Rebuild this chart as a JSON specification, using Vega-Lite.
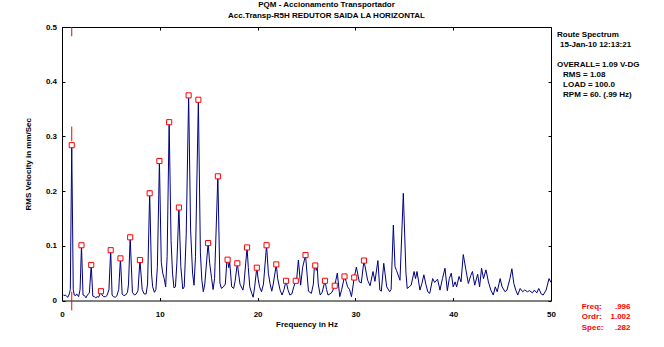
{
  "$schema": "https://vega.github.io/schema/vega-lite/v6.json",
  "autosize": {"type": "none"},
  "width": 489,
  "height": 273.5,
  "padding": {"left": 62, "top": 27, "right": 113, "bottom": 46.5},
  "background": "white",
  "config": {
    "font": "Liberation Sans",
    "view": {"stroke": null},
    "axis": {"domainColor": "black", "tickColor": "black", "labelColor": "black", "titleColor": "black", "grid": false, "labelFont": "Liberation Sans", "titleFont": "Liberation Sans", "labelFontWeight": "bold", "titleFontWeight": "bold", "labelFontSize": 8, "titleFontSize": 8, "tickSize": -3, "domainWidth": 1}
  },
  "title": {
    "text": ["PQM  - Accionamento Transportador", "Acc.Transp-R5H   REDUTOR SAIDA LA HORIZONTAL"],
    "anchor": "middle", "frame": "group", "fontSize": 8, "fontWeight": "bold", "font": "Liberation Sans",
    "lineHeight": 11, "offset": 3, "dx": 20, "color": "black"
  },
  "datasets": {
    "spectrum": [
      {"f":0.1,"v":0.011},{"f":0.2,"v":0.009},{"f":0.35,"v":0.01},{"f":0.5,"v":0.007},{"f":0.6,"v":0.006},{"f":0.75,"v":0.012},{"f":0.85,"v":0.02},{"f":0.996,"v":0.284},{"f":1.15,"v":0.02},{"f":1.25,"v":0.01},{"f":1.4,"v":0.009},{"f":1.5,"v":0.012},{"f":1.7,"v":0.007},{"f":1.85,"v":0.02},{"f":1.992,"v":0.101},{"f":2.15,"v":0.01},{"f":2.3,"v":0.009},{"f":2.45,"v":0.005},{"f":2.6,"v":0.01},{"f":2.8,"v":0.014},{"f":2.988,"v":0.065},{"f":3.15,"v":0.008},{"f":3.3,"v":0.007},{"f":3.45,"v":0.005},{"f":3.6,"v":0.007},{"f":3.75,"v":0.006},{"f":3.984,"v":0.017},{"f":4.1,"v":0.01},{"f":4.25,"v":0.007},{"f":4.45,"v":0.007},{"f":4.6,"v":0.009},{"f":4.8,"v":0.02},{"f":4.98,"v":0.092},{"f":5.12,"v":0.01},{"f":5.25,"v":0.007},{"f":5.45,"v":0.006},{"f":5.6,"v":0.008},{"f":5.8,"v":0.02},{"f":5.976,"v":0.077},{"f":6.15,"v":0.012},{"f":6.3,"v":0.009},{"f":6.5,"v":0.01},{"f":6.7,"v":0.015},{"f":6.8,"v":0.03},{"f":6.972,"v":0.1155},{"f":7.2,"v":0.015},{"f":7.4,"v":0.01},{"f":7.6,"v":0.012},{"f":7.77,"v":0.018},{"f":7.968,"v":0.074},{"f":8.2,"v":0.02},{"f":8.4,"v":0.012},{"f":8.6,"v":0.012},{"f":8.75,"v":0.03},{"f":8.964,"v":0.196},{"f":9.15,"v":0.05},{"f":9.27,"v":0.025},{"f":9.45,"v":0.015},{"f":9.6,"v":0.02},{"f":9.75,"v":0.06},{"f":9.96,"v":0.255},{"f":10.15,"v":0.07},{"f":10.3,"v":0.05},{"f":10.45,"v":0.04},{"f":10.6,"v":0.025},{"f":10.75,"v":0.08},{"f":10.956,"v":0.326},{"f":11.15,"v":0.11},{"f":11.3,"v":0.05},{"f":11.45,"v":0.023},{"f":11.6,"v":0.025},{"f":11.75,"v":0.07},{"f":11.952,"v":0.17},{"f":12.15,"v":0.062},{"f":12.35,"v":0.021},{"f":12.5,"v":0.025},{"f":12.7,"v":0.12},{"f":12.948,"v":0.375},{"f":13.15,"v":0.129},{"f":13.35,"v":0.05},{"f":13.5,"v":0.028},{"f":13.65,"v":0.08},{"f":13.944,"v":0.367},{"f":14.15,"v":0.087},{"f":14.3,"v":0.037},{"f":14.45,"v":0.016},{"f":14.6,"v":0.03},{"f":14.94,"v":0.105},{"f":15.1,"v":0.068},{"f":15.3,"v":0.04},{"f":15.45,"v":0.02},{"f":15.6,"v":0.04},{"f":15.936,"v":0.227},{"f":16.15,"v":0.032},{"f":16.3,"v":0.022},{"f":16.5,"v":0.025},{"f":16.7,"v":0.03},{"f":16.85,"v":0.07},{"f":16.932,"v":0.0746},{"f":17.05,"v":0.06},{"f":17.15,"v":0.07},{"f":17.35,"v":0.025},{"f":17.55,"v":0.022},{"f":17.7,"v":0.035},{"f":17.928,"v":0.068},{"f":18.05,"v":0.05},{"f":18.2,"v":0.03},{"f":18.5,"v":0.019},{"f":18.6,"v":0.03},{"f":18.924,"v":0.097},{"f":19.05,"v":0.06},{"f":19.2,"v":0.025},{"f":19.4,"v":0.013},{"f":19.55,"v":0.006},{"f":19.7,"v":0.025},{"f":19.92,"v":0.06},{"f":20.05,"v":0.04},{"f":20.2,"v":0.025},{"f":20.4,"v":0.016},{"f":20.6,"v":0.03},{"f":20.916,"v":0.101},{"f":21.1,"v":0.05},{"f":21.27,"v":0.031},{"f":21.45,"v":0.017},{"f":21.6,"v":0.03},{"f":21.912,"v":0.066},{"f":22.05,"v":0.04},{"f":22.3,"v":0.019},{"f":22.5,"v":0.01},{"f":22.7,"v":0.02},{"f":22.908,"v":0.036},{"f":23.1,"v":0.02},{"f":23.3,"v":0.01},{"f":23.5,"v":0.012},{"f":23.7,"v":0.025},{"f":23.904,"v":0.036},{"f":24.0,"v":0.04},{"f":24.17,"v":0.074},{"f":24.4,"v":0.028},{"f":24.6,"v":0.06},{"f":24.9,"v":0.083},{"f":25.05,"v":0.05},{"f":25.2,"v":0.017},{"f":25.5,"v":0.013},{"f":25.7,"v":0.03},{"f":25.82,"v":0.068},{"f":25.896,"v":0.064},{"f":26.0,"v":0.055},{"f":26.1,"v":0.06},{"f":26.2,"v":0.03},{"f":26.4,"v":0.01},{"f":26.6,"v":0.015},{"f":26.892,"v":0.036},{"f":27.05,"v":0.02},{"f":27.2,"v":0.01},{"f":27.4,"v":0.012},{"f":27.6,"v":0.015},{"f":27.888,"v":0.027},{"f":28.15,"v":0.05},{"f":28.4,"v":0.007},{"f":28.6,"v":0.02},{"f":28.884,"v":0.044},{"f":29.05,"v":0.035},{"f":29.2,"v":0.025},{"f":29.4,"v":0.02},{"f":29.6,"v":0.007},{"f":29.88,"v":0.042},{"f":30.1,"v":0.061},{"f":30.4,"v":0.034},{"f":30.6,"v":0.032},{"f":30.876,"v":0.073},{"f":31.25,"v":0.037},{"f":31.5,"v":0.027},{"f":31.8,"v":0.053},{"f":32.0,"v":0.035},{"f":32.3,"v":0.073},{"f":32.5,"v":0.019},{"f":32.65,"v":0.017},{"f":32.9,"v":0.068},{"f":33.2,"v":0.025},{"f":33.5,"v":0.016},{"f":33.65,"v":0.02},{"f":33.88,"v":0.138},{"f":34.05,"v":0.062},{"f":34.2,"v":0.055},{"f":34.56,"v":0.037},{"f":34.9,"v":0.196},{"f":35.17,"v":0.05},{"f":35.3,"v":0.022},{"f":35.5,"v":0.025},{"f":35.7,"v":0.028},{"f":36.0,"v":0.053},{"f":36.15,"v":0.04},{"f":36.3,"v":0.053},{"f":36.6,"v":0.019},{"f":36.8,"v":0.031},{"f":37.0,"v":0.047},{"f":37.2,"v":0.03},{"f":37.4,"v":0.016},{"f":37.6,"v":0.013},{"f":37.9,"v":0.04},{"f":38.1,"v":0.033},{"f":38.4,"v":0.039},{"f":38.65,"v":0.019},{"f":38.9,"v":0.04},{"f":39.16,"v":0.059},{"f":39.4,"v":0.018},{"f":39.6,"v":0.04},{"f":39.8,"v":0.05},{"f":40.0,"v":0.025},{"f":40.2,"v":0.034},{"f":40.35,"v":0.025},{"f":40.6,"v":0.044},{"f":40.8,"v":0.034},{"f":41.03,"v":0.084},{"f":41.3,"v":0.056},{"f":41.55,"v":0.031},{"f":41.8,"v":0.046},{"f":41.97,"v":0.053},{"f":42.2,"v":0.028},{"f":42.5,"v":0.048},{"f":42.7,"v":0.025},{"f":42.9,"v":0.059},{"f":43.1,"v":0.04},{"f":43.35,"v":0.056},{"f":43.6,"v":0.034},{"f":43.85,"v":0.019},{"f":44.1,"v":0.01},{"f":44.3,"v":0.025},{"f":44.5,"v":0.016},{"f":44.8,"v":0.04},{"f":45.0,"v":0.025},{"f":45.3,"v":0.016},{"f":45.5,"v":0.019},{"f":45.8,"v":0.04},{"f":46.0,"v":0.058},{"f":46.2,"v":0.031},{"f":46.4,"v":0.019},{"f":46.6,"v":0.01},{"f":46.85,"v":0.022},{"f":47.1,"v":0.016},{"f":47.3,"v":0.019},{"f":47.6,"v":0.016},{"f":47.8,"v":0.018},{"f":48.1,"v":0.014},{"f":48.3,"v":0.019},{"f":48.55,"v":0.014},{"f":48.75,"v":0.022},{"f":49.0,"v":0.012},{"f":49.2,"v":0.01},{"f":49.5,"v":0.019},{"f":49.8,"v":0.04},{"f":50,"v":0.033}
    ],
    "peaks": [
      {"n":1,"f":0.996,"v":0.284},{"n":2,"f":1.992,"v":0.101},{"n":3,"f":2.988,"v":0.065},{"n":4,"f":3.984,"v":0.017},{"n":5,"f":4.98,"v":0.092},{"n":6,"f":5.976,"v":0.077},{"n":7,"f":6.972,"v":0.1155},{"n":8,"f":7.968,"v":0.074},{"n":9,"f":8.964,"v":0.196},{"n":10,"f":9.96,"v":0.255},{"n":11,"f":10.956,"v":0.326},{"n":12,"f":11.952,"v":0.17},{"n":13,"f":12.948,"v":0.375},{"n":14,"f":13.944,"v":0.367},{"n":15,"f":14.94,"v":0.105},{"n":16,"f":15.936,"v":0.227},{"n":17,"f":16.932,"v":0.0746},{"n":18,"f":17.928,"v":0.068},{"n":19,"f":18.924,"v":0.097},{"n":20,"f":19.92,"v":0.06},{"n":21,"f":20.916,"v":0.101},{"n":22,"f":21.912,"v":0.066},{"n":23,"f":22.908,"v":0.036},{"n":24,"f":23.904,"v":0.036},{"n":25,"f":24.9,"v":0.083},{"n":26,"f":25.896,"v":0.064},{"n":27,"f":26.892,"v":0.036},{"n":28,"f":27.888,"v":0.027},{"n":29,"f":28.884,"v":0.044},{"n":30,"f":29.88,"v":0.042},{"n":31,"f":30.876,"v":0.073}
    ],
    "cursor": [
      {"f":0.996,"v1":0.5,"v2":0.483},{"f":0.996,"v1":0.318,"v2":0.291},{"f":0.996,"v1":0.016,"v2":-0.018}
    ],
    "panel": [
      {"t":"Route Spectrum","f":50.61,"v":0.4854},
      {"t":"15-Jan-10  12:13:21","f":50.92,"v":0.467},
      {"t":"OVERALL= 1.09 V-DG","f":50.61,"v":0.4305},
      {"t":"RMS =  1.08","f":51.23,"v":0.412},
      {"t":"LOAD = 100.0","f":51.23,"v":0.394},
      {"t":"RPM = 60.  (.99 Hz)","f":51.23,"v":0.3757}
    ],
    "cursorLabels": [
      {"t":"Freq:","f":53.14,"v":-0.0113},
      {"t":"Ordr:","f":53.14,"v":-0.0296},
      {"t":"Spec:","f":53.14,"v":-0.0497}
    ],
    "cursorValues": [
      {"t":".996","f":58.13,"v":-0.0113},
      {"t":"1.002","f":58.13,"v":-0.0296},
      {"t":".282","f":58.13,"v":-0.0497}
    ]
  },
  "resolve": {"axis": {"x": "independent", "y": "independent"}},
  "layer": [
    {
      "data": {"name": "spectrum"},
      "mark": {"type": "line", "color": "#000080", "strokeWidth": 1},
      "encoding": {
        "x": {"field": "f", "type": "quantitative", "scale": {"domain": [0, 50], "nice": false, "zero": false},
              "axis": {"title": "Frequency in Hz", "values": [0, 10, 20, 30, 40, 50], "labelPadding": 13, "titlePadding": 2, "labelFlush": false}},
        "y": {"field": "v", "type": "quantitative", "scale": {"domain": [0, 0.5], "nice": false},
              "axis": {"title": "RMS Velocity in mm/Sec", "values": [0, 0.1, 0.2, 0.3, 0.4, 0.5], "format": ".1~f", "labelPadding": 8.5, "titlePadding": 13, "labelFlush": false}}
      }
    },
    {
      "data": {"name": "cursor"},
      "mark": {"type": "rule", "color": "#ff0000", "strokeWidth": 1},
      "encoding": {
        "x": {"field": "f", "type": "quantitative", "axis": null},
        "y": {"field": "v1", "type": "quantitative", "axis": null},
        "y2": {"field": "v2"}
      }
    },
    {
      "data": {"name": "peaks"},
      "mark": {"type": "point", "shape": "square", "size": 26, "fill": "white", "stroke": "#ff0000", "strokeWidth": 1, "opacity": 1, "fillOpacity": 1},
      "encoding": {
        "x": {"field": "f", "type": "quantitative",
              "axis": {"orient": "top", "title": null, "labels": false, "values": [0, 10, 20, 30, 40, 50]}},
        "y": {"field": "v", "type": "quantitative",
              "axis": {"orient": "right", "title": null, "labels": false, "values": [0, 0.1, 0.2, 0.3, 0.4, 0.5]}}
      }
    },
    {
      "data": {"name": "panel"},
      "mark": {"type": "text", "align": "left", "baseline": "middle", "fontSize": 8, "fontWeight": "bold", "color": "black"},
      "encoding": {
        "x": {"field": "f", "type": "quantitative", "axis": null},
        "y": {"field": "v", "type": "quantitative", "axis": null},
        "text": {"field": "t"}
      }
    },
    {
      "data": {"name": "cursorLabels"},
      "mark": {"type": "text", "align": "left", "baseline": "middle", "fontSize": 8, "fontWeight": "bold", "color": "#ff0000"},
      "encoding": {
        "x": {"field": "f", "type": "quantitative", "axis": null},
        "y": {"field": "v", "type": "quantitative", "axis": null},
        "text": {"field": "t"}
      }
    },
    {
      "data": {"name": "cursorValues"},
      "mark": {"type": "text", "align": "right", "baseline": "middle", "fontSize": 8, "fontWeight": "bold", "color": "#ff0000"},
      "encoding": {
        "x": {"field": "f", "type": "quantitative", "axis": null},
        "y": {"field": "v", "type": "quantitative", "axis": null},
        "text": {"field": "t"}
      }
    }
  ]
}
